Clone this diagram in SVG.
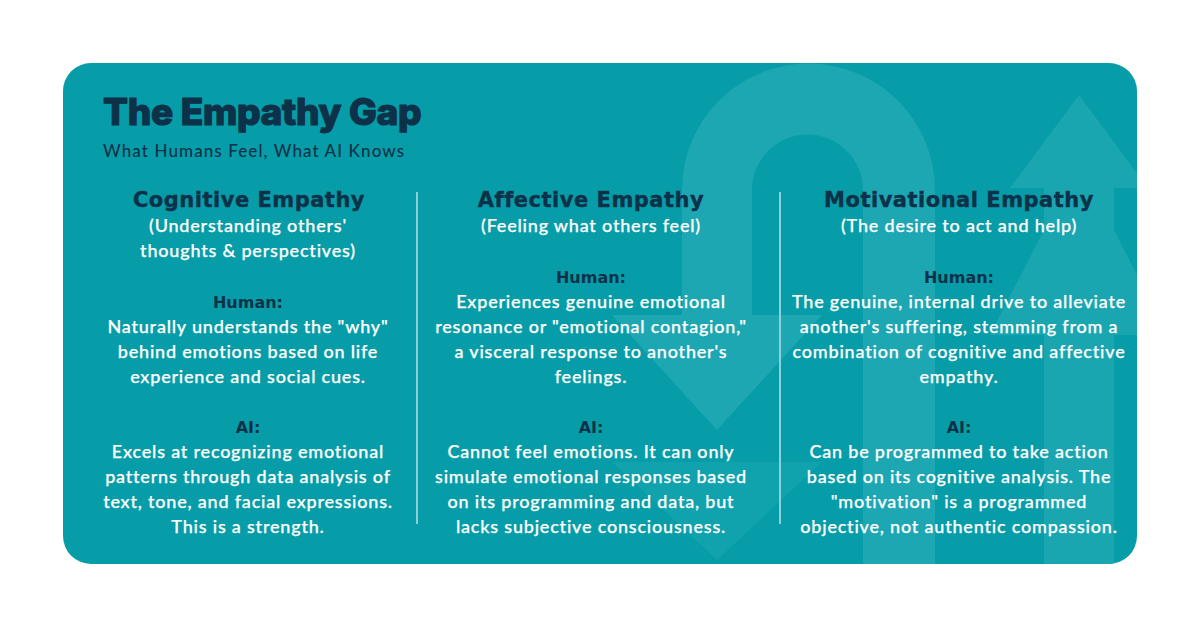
<svg xmlns="http://www.w3.org/2000/svg" width="1200" height="628" viewBox="0 0 1200 628">
<style>
.title{font-family:Inter,"Liberation Sans",sans-serif;font-weight:800;font-size:37px;fill:#0c3148;stroke:#0c3148;stroke-width:1.2px;letter-spacing:-0.3px}
.subtitle{font-family:Lato,"Liberation Sans",sans-serif;font-weight:500;font-size:17px;fill:#0c3148;letter-spacing:1.1px}
.head{font-family:"DejaVu Sans","Liberation Sans",sans-serif;font-weight:700;font-size:21px;fill:#0c3148;stroke:#0c3148;stroke-width:0.4px;text-anchor:middle;letter-spacing:0.5px}
.label{font-family:"DejaVu Sans","Liberation Sans",sans-serif;font-weight:700;font-size:16px;fill:#0c3148;text-anchor:middle}
.body{font-family:Lato,"Liberation Sans",sans-serif;font-weight:500;font-size:18px;fill:#ffffff;stroke:#ffffff;stroke-width:0.25px;text-anchor:middle;letter-spacing:0.8px}
.divider{stroke:#8ad2d8;stroke-width:2}
</style>
<defs>
<clipPath id="cardClip"><rect x="63" y="63" width="1074" height="501" rx="28"/></clipPath>
</defs>
<rect width="1200" height="628" fill="#ffffff"/>
<g id="card">
<rect x="63" y="63" width="1074" height="501" rx="28" fill="#069da8"/>
<g id="watermark" clip-path="url(#cardClip)">
<path fill="#1ca7b2" d="M682,315 L682,190 A126.5,126.5 0 0 1 935,190 L935,564 L863,564 L863,190 A55.5,55.5 0 0 0 752,190 L752,315 L822,315 L717,430 L612,315 Z"/>
<path fill="#10a2ad" d="M682,462 L752,462 L822,462 L717,560 L612,462 Z"/>
<path fill="#1aa6b1" d="M1079,95 L1148,188 L1114,188 L1114,230 L1168,335 L1114,335 L1114,564 L1044,564 L1044,335 L990,335 L1044,230 L1044,188 L1010,188 Z"/>
<path fill="#1aa6b1" d="M1079,230 L1168,335 L990,335 Z"/>
</g>
</g>
<g id="header">
<text class="title" x="103" y="125">The Empathy Gap</text>
<text class="subtitle" x="103" y="157">What Humans Feel, What AI Knows</text>
</g>
<g id="connectors">
<line class="divider" x1="417" y1="192" x2="417" y2="524"/>
<line class="divider" x1="780" y1="192" x2="780" y2="524"/>
</g>
<g id="col-cognitive">
<text class="head" x="249" y="207">Cognitive Empathy</text>
<text class="body" x="248" y="232">(Understanding others'</text>
<text class="body" x="248" y="257">thoughts &amp; perspectives)</text>
<text class="label" x="248" y="308">Human:</text>
<text class="body" x="248" y="333">Naturally understands the "why"</text>
<text class="body" x="248" y="358">behind emotions based on life</text>
<text class="body" x="248" y="383">experience and social cues.</text>
<text class="label" x="248" y="433">AI:</text>
<text class="body" x="248" y="458">Excels at recognizing emotional</text>
<text class="body" x="248" y="483">patterns through data analysis of</text>
<text class="body" x="248" y="508">text, tone, and facial expressions.</text>
<text class="body" x="248" y="533">This is a strength.</text>
</g>
<g id="col-affective">
<text class="head" x="591" y="207">Affective Empathy</text>
<text class="body" x="591" y="232">(Feeling what others feel)</text>
<text class="label" x="591" y="283">Human:</text>
<text class="body" x="591" y="308">Experiences genuine emotional</text>
<text class="body" x="591" y="333">resonance or "emotional contagion,"</text>
<text class="body" x="591" y="358">a visceral response to another's</text>
<text class="body" x="591" y="383">feelings.</text>
<text class="label" x="591" y="433">AI:</text>
<text class="body" x="591" y="458">Cannot feel emotions. It can only</text>
<text class="body" x="591" y="483">simulate emotional responses based</text>
<text class="body" x="591" y="508">on its programming and data, but</text>
<text class="body" x="591" y="533">lacks subjective consciousness.</text>
</g>
<g id="col-motivational">
<text class="head" x="959" y="207">Motivational Empathy</text>
<text class="body" x="959" y="232">(The desire to act and help)</text>
<text class="label" x="959" y="283">Human:</text>
<text class="body" x="959" y="308">The genuine, internal drive to alleviate</text>
<text class="body" x="959" y="333">another's suffering, stemming from a</text>
<text class="body" x="959" y="358">combination of cognitive and affective</text>
<text class="body" x="959" y="383">empathy.</text>
<text class="label" x="959" y="433">AI:</text>
<text class="body" x="959" y="458">Can be programmed to take action</text>
<text class="body" x="959" y="483">based on its cognitive analysis. The</text>
<text class="body" x="959" y="508">"motivation" is a programmed</text>
<text class="body" x="959" y="533">objective, not authentic compassion.</text>
</g>
</svg>
